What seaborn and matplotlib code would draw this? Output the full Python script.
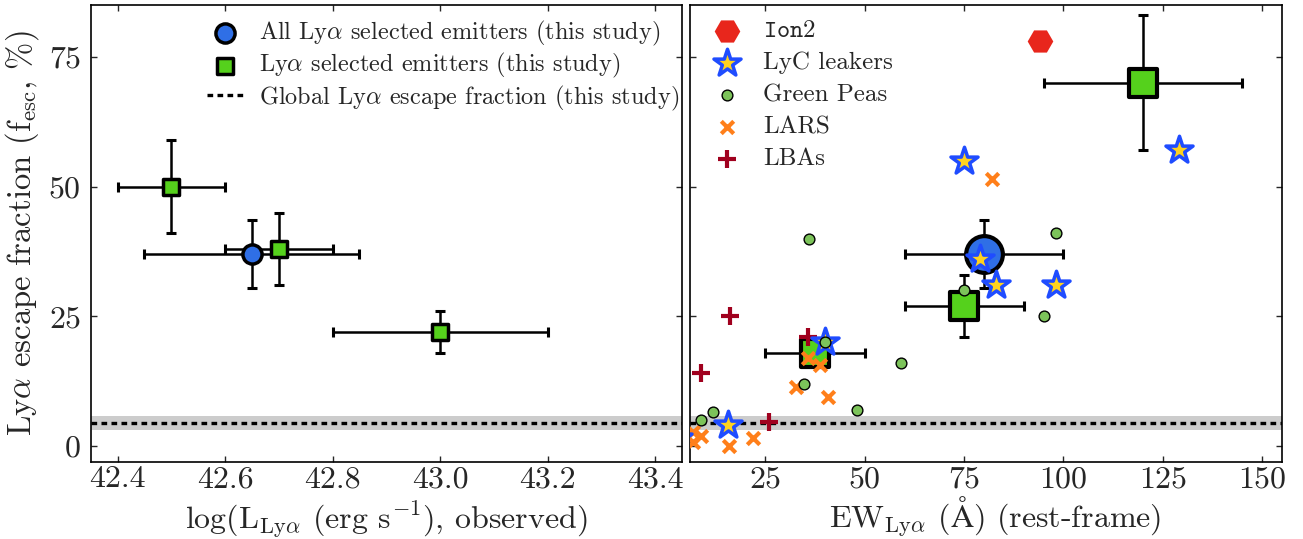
import numpy as np
import pandas as pd
import matplotlib
matplotlib.use("Agg")
import matplotlib.pyplot as plt
import seaborn as sns

# --- data: left panel (luminosity bins) ---
all_lum = [42.65]
all_lum_err = [0.2]
all_fesc_l = [37]
all_fesc_l_err = [6.5]

lum_bins = [42.5, 42.7, 43.0]
lum_bins_err = [0.1, 0.1, 0.2]
fesc_lum = [50, 38, 22]
fesc_lum_err = [9, 7, 4]

# --- data: right panel (EW bins) ---
all_ew = [80]
all_ew_err = [20]
all_fesc_r = [37]
all_fesc_r_err = [6.5]

ew_bins = [37.5, 75, 120]
ew_bins_err = [12.5, 15, 25]
fesc_ew = [18, 27, 70]
fesc_ew_err = [2, 6, 13]

global_fesc = 4.5
global_lo = 3.2
global_hi = 5.8

# literature samples
ion2_ew = [94]
ion2_fesc = [78]

lyc_ew = [75, 129, 79, 83, 98, 40, 15.7, 3]
lyc_fesc = [55, 57, 36, 31, 31, 20, 4, 1.5]

gp_ew = [36, 98, 75, 95, 59, 40, 34.7, 48, 11.7, 8.8]
gp_fesc = [40, 41, 30, 25, 16, 20, 12, 7, 6.6, 5.1]

lars_ew = [82, 32.7, 40.8, 35.7, 38.8, 21.9, 15.9, 8.7, 6.7, 6.7]
lars_fesc = [51.5, 11.3, 9.5, 17, 15.6, 1.6, 0.1, 1.9, 2.8, 0.8]

lba_ew = [16, 8.9, 26, 35.7]
lba_fesc = [25, 14, 4.7, 21]

sns.set_style("ticks")
plt.rcParams['font.family'] = ['cmr10', 'DejaVu Serif']
plt.rcParams['mathtext.fontset'] = 'cm'
plt.rcParams['axes.formatter.use_mathtext'] = True
plt.rcParams['axes.unicode_minus'] = False

fig = plt.figure(figsize=(13.03, 5.39), dpi=100)
ax1 = fig.add_axes([0.0696, 0.1434, 0.4538, 0.8473])
ax2 = fig.add_axes([0.5295, 0.1434, 0.4544, 0.8473])

blue = '#2f6fe6'
green = '#55d11c'
ebar = dict(fmt='none', ecolor='black', elinewidth=1.8, capsize=3.5, capthick=2.2, zorder=2)

for ax in (ax1, ax2):
    ax.axhspan(global_lo, global_hi, color='#cccccc', lw=0, zorder=0)
    ax.axhline(global_fesc, color='black', lw=2.4, dashes=(1.7, 1.3), zorder=1,
               label='Global Ly$\\alpha$ escape fraction (this study)')

# left panel
ax1.errorbar(all_lum, all_fesc_l, xerr=all_lum_err, yerr=all_fesc_l_err, **ebar)
ax1.errorbar(lum_bins, fesc_lum, xerr=lum_bins_err, yerr=fesc_lum_err, **ebar)
sns.scatterplot(x=all_lum, y=all_fesc_l, ax=ax1, marker='o', s=190, color=blue,
                edgecolor='black', linewidth=2.5, zorder=3,
                label='All Ly$\\alpha$ selected emitters (this study)')
sns.scatterplot(x=lum_bins, y=fesc_lum, ax=ax1, marker='s', s=130, color=green,
                edgecolor='black', linewidth=2.5, zorder=3,
                label='Ly$\\alpha$ selected emitters (this study)')

# right panel
ax2.errorbar(all_ew, all_fesc_r, xerr=all_ew_err, yerr=all_fesc_r_err, **ebar)
ax2.errorbar(ew_bins, fesc_ew, xerr=ew_bins_err, yerr=fesc_ew_err, **ebar)
sns.scatterplot(x=all_ew, y=all_fesc_r, ax=ax2, marker='o', s=700, color=blue,
                edgecolor='black', linewidth=3, zorder=3)
sns.scatterplot(x=ew_bins, y=fesc_ew, ax=ax2, marker='s', s=380, color=green,
                edgecolor='black', linewidth=3, zorder=3)

sns.scatterplot(x=ion2_ew, y=ion2_fesc, ax=ax2, marker='H', s=340, color='#e8261c',
                edgecolor='#e8261c', linewidth=0, zorder=4, label='$\\mathtt{Ion2}$')
sns.scatterplot(x=lars_ew, y=lars_fesc, ax=ax2, marker='x', s=80, color='#ff7f1a',
                linewidth=3, zorder=4, label='LARS')
sns.scatterplot(x=lba_ew, y=lba_fesc, ax=ax2, marker='+', s=150, color='#a0001e',
                linewidth=3, zorder=4, label='LBAs')
sns.scatterplot(x=lyc_ew, y=lyc_fesc, ax=ax2, marker='*', s=420, color='#ffd21f',
                edgecolor='#1f4cff', linewidth=2.5, zorder=5, label='LyC leakers')
sns.scatterplot(x=gp_ew, y=gp_fesc, ax=ax2, marker='o', s=60, color='#7cc35a',
                edgecolor='black', linewidth=1, zorder=6, label='Green Peas')

ax1.set_xlim(42.35, 43.45)
ax2.set_xlim(6, 155)
for ax in (ax1, ax2):
    ax.set_ylim(-3, 85)
    ax.set_yticks([0, 25, 50, 75])
    ax.tick_params(direction='in', top=True, right=True, length=4, width=1,
                   labelsize=23, pad=7)
    ax.tick_params(axis='x', pad=3)
    for sp in ax.spines.values():
        sp.set_linewidth(1.2)
        sp.set_color('black')
ax1.set_xticks([42.4, 42.6, 42.8, 43.0, 43.2, 43.4])
ax1.set_xticklabels(['42.4', '42.6', '42.8', '43.0', '43.2', '43.4'])
ax2.set_xticks([25, 50, 75, 100, 125, 150])
ax2.tick_params(labelleft=False)

ax1.set_xlabel('log(L$_{\\rm Ly\\alpha}$ (erg s$^{-1}$), observed)', fontsize=23)
ax1.set_ylabel('Ly$\\alpha$ escape fraction (f$_{\\rm esc}$, %)', fontsize=23.5, labelpad=5)
ax2.set_xlabel('EW$_{\\rm Ly\\alpha}$ ($\\mathrm{Å}$) (rest-frame)', fontsize=23)
for ax in (ax1, ax2):
    ax.xaxis.label.set_va('baseline')
    ax.xaxis.set_label_coords(0.5, -0.145)
ax2.xaxis.set_label_coords(0.515, -0.145)

h, l = ax1.get_legend_handles_labels()
order = ['All Ly$\\alpha$ selected emitters (this study)',
         'Ly$\\alpha$ selected emitters (this study)',
         'Global Ly$\\alpha$ escape fraction (this study)']
hmap = dict(zip(l, h))
ax1.legend([hmap[k] for k in order], order, loc='upper left', frameon=False,
           fontsize=17.5, bbox_to_anchor=(0.18, 0.99), handlelength=1.5,
           handletextpad=0.65, labelspacing=0.12, borderaxespad=0)

h, l = ax2.get_legend_handles_labels()
order = ['$\\mathtt{Ion2}$', 'LyC leakers', 'Green Peas', 'LARS', 'LBAs']
hmap = dict(zip(l, h))
ax2.legend([hmap[k] for k in order], order, loc='upper left', frameon=False,
           fontsize=18, bbox_to_anchor=(0.02, 0.99), handlelength=1.2,
           handletextpad=0.85, labelspacing=0.38, borderaxespad=0)

fig.savefig('out.png', dpi=100)
